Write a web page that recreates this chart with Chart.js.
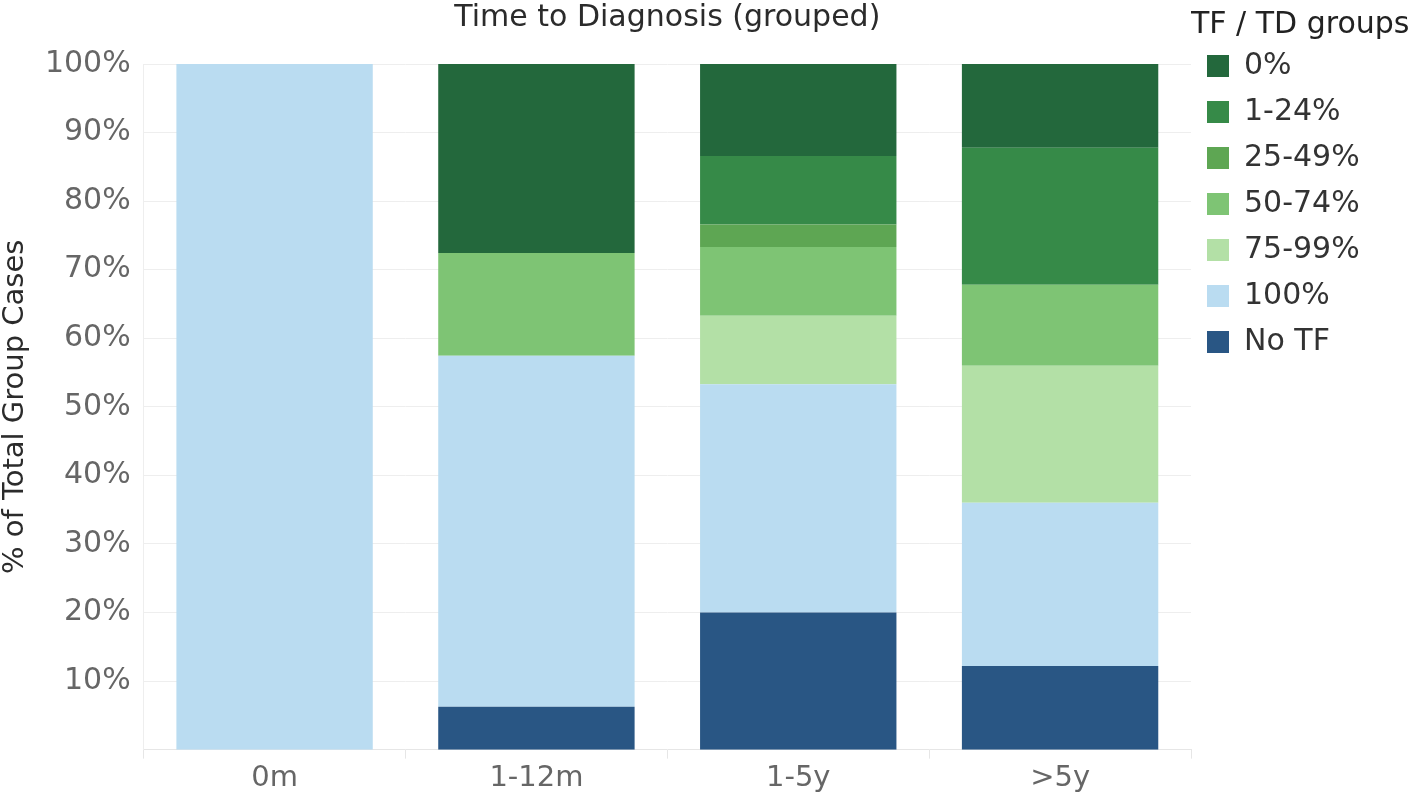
<!DOCTYPE html>
<html>
<head>
<meta charset="utf-8">
<script src="https://cdn.jsdelivr.net/npm/chart.js@4/dist/chart.umd.min.js"></script>
<style>
  html, body { margin: 0; padding: 0; background: #fff; }
  #wrap { width: 1418px; height: 798px; }
</style>
</head>
<body>
<div id="wrap"><canvas id="chart" width="1418" height="798"></canvas></div>
<script>
// categories on the x axis
var groups = ['0m', '1-12m', '1-5y', '>5y'];
// share of cases per TF / TD group (percent), bottom of stack first
var noTF   = [0, 6.25, 20.0, 12.2];
var p100   = [100, 51.2, 33.3, 23.8];
var p75_99 = [0, 0, 10.0, 20.0];
var p50_74 = [0, 15.0, 10.0, 11.8];
var p25_49 = [0, 0, 3.3, 0];
var p1_24  = [0, 0, 10.0, 20.0];
var p0     = [0, 27.55, 13.4, 12.2];
var yTicks = [10, 20, 30, 40, 50, 60, 70, 80, 90, 100];

var font = "'DejaVu Sans', sans-serif";
var legendWidth = 227;

function ds(label, data, color) {
	return {
		label: label,
		data: data,
		backgroundColor: color,
		borderWidth: 0,
		barPercentage: 0.75,
		categoryPercentage: 1.0
	};
}

// legend box gets a fixed width so the title is not cut off
var fixLegendWidth = {
	id: 'fixLegendWidth',
	beforeLayout: function(chart) {
		var lg = chart.legend;
		if (lg && !lg._fixed) {
			var fit = lg.fit;
			lg.fit = function() {
				fit.call(this);
				this.width = legendWidth;
			};
			lg._fixed = true;
		}
	}
};

var ctx = document.getElementById('chart');
var chart = new Chart(ctx, {
	type: 'bar',
	data: {
		labels: groups,
		datasets: [
			ds('No TF', noTF, '#295684'),
			ds('100%', p100, '#badcf1'),
			ds('75-99%', p75_99, '#b3e0a6'),
			ds('50-74%', p50_74, '#7ec474'),
			ds('25-49%', p25_49, '#5ea653'),
			ds('1-24%', p1_24, '#368a48'),
			ds('0%', p0, '#23683c')
		]
	},
	plugins: [fixLegendWidth],
	options: {
		responsive: false,
		animation: false,
		layout: { padding: 0 },
		plugins: {
			title: {
				display: true,
				fullSize: false,
				text: 'Time to Diagnosis (grouped)',
				color: '#2b2b2b',
				font: { family: font, size: 30, weight: 'normal', lineHeight: 1.2 },
				padding: { top: 0, bottom: 28 }
			},
			legend: {
				display: true,
				position: 'right',
				align: 'start',
				reverse: true,
				title: {
					display: true,
					text: 'TF / TD groups',
					position: 'start',
					color: '#222',
					font: { family: font, size: 30, weight: 'normal', lineHeight: 1 },
					padding: { top: 10, bottom: -5 }
				},
				labels: {
					boxWidth: 22,
					boxHeight: 22,
					padding: 16,
					color: '#333',
					font: { family: font, size: 30 }
				}
			},
			tooltip: { enabled: false }
		},
		scales: {
			x: {
				stacked: true,
				grid: { offset: true, drawOnChartArea: false, tickLength: 9, color: '#e6e6e6' },
				border: { color: '#e6e6e6' },
				ticks: { color: '#666', font: { family: font, size: 29, lineHeight: 1.15 }, padding: 3 }
			},
			y: {
				stacked: true,
				min: 0,
				max: 100,
				afterBuildTicks: function(axis) {
					axis.ticks = yTicks.map(function(v) { return { value: v }; });
				},
				grid: { color: '#eeeeee', drawTicks: false },
				border: { color: '#eeeeee' },
				ticks: {
					color: '#666',
					padding: 13,
					font: { family: font, size: 30 },
					callback: function(v) { return v + '%'; }
				},
				title: {
					display: true,
					text: '% of Total Group Cases',
					color: '#2b2b2b',
					font: { family: font, size: 29, lineHeight: 1.1 },
					padding: { top: 0, bottom: 0 }
				}
			}
		}
	}
});
</script>
</body>
</html>
